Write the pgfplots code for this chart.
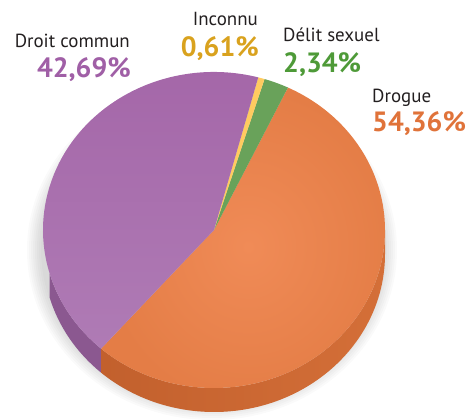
\documentclass[border=0pt]{standalone}
\usepackage{pgfplots}
\pgfplotsset{compat=1.18}
\usepackage{pgfplotstable}
\usetikzlibrary{calc}
\usepackage{fontspec}
\setmainfont{PT Sans}

\definecolor{purpleTop}{HTML}{A466A8}
\definecolor{purpleLow}{HTML}{AF7BB5}
\definecolor{purpleSide}{HTML}{8B5890}
\definecolor{orangeTop}{HTML}{E47D46}
\definecolor{orangeLight}{HTML}{F08B57}
\definecolor{orangeSideL}{HTML}{C2602D}
\definecolor{orangeSideR}{HTML}{D46F38}
\definecolor{greenTop}{HTML}{69A25A}
\definecolor{yellowTop}{HTML}{FFCB60}
\definecolor{txt}{HTML}{231F20}
\definecolor{lblPurple}{HTML}{A05FA6}
\definecolor{lblYellow}{HTML}{D9A21E}
\definecolor{lblGreen}{HTML}{4E9A38}
\definecolor{lblOrange}{HTML}{E0733A}

\pgfplotstableread[col sep=comma]{
key,value
Drogue,54.36
Delit,2.34
Inconnu,0.61
Droit,42.69
}\piedata

\pgfplotstablegetelem{0}{value}\of\piedata \let\vA\pgfplotsretval
\pgfplotstablegetelem{1}{value}\of\piedata \let\vB\pgfplotsretval
\pgfplotstablegetelem{2}{value}\of\piedata \let\vC\pgfplotsretval
\pgfplotstablegetelem{3}{value}\of\piedata \let\vD\pgfplotsretval

% angles (counter-clockwise), start chosen so that the layout matches
\pgfmathsetmacro\aA{-131.316}
\pgfmathsetmacro\aB{\aA+3.6*\vA}
\pgfmathsetmacro\aC{\aB+3.6*\vB}
\pgfmathsetmacro\aD{\aC+3.6*\vC}
\pgfmathsetmacro\aE{\aD+3.6*\vD}

\tikzset{pie/.style={x radius=171bp, y radius=158bp}}

\begin{document}
\begin{tikzpicture}
\begin{axis}[hide axis, scale only axis, width=468bp, height=414bp,
  xmin=0, xmax=468, ymin=0, ymax=414, clip=false]
\path (axis cs:0,0) (axis cs:468,414);
\coordinate (C) at (axis cs:214,184);
% soft shadow
\pgfplotsinvokeforeach{2,4,6,8,10,12,14,16}{
  \fill[black, opacity=0.018] ($(C)+(-2bp,-20bp)$) ellipse[x radius=169bp+#1bp, y radius=154bp+#1bp];
}
% sides
\fill[purpleSide] ($(C)+(196:171bp and 158bp)$) arc[start angle=196, end angle=\aE, pie]
  -- ++(0,-24bp) arc[start angle=\aE, end angle=196, pie] -- cycle;
\shade[left color=orangeSideL, right color=orangeSideR] ($(C)+(\aE:171bp and 158bp)$) arc[start angle=\aE, end angle=360, pie]
  -- ++(0,-24bp) arc[start angle=360, end angle=\aE, pie] -- cycle;
% top faces
\shade[inner color=orangeLight, outer color=orangeTop] (C) -- ($(C)+(\aA:171bp and 158bp)$) arc[start angle=\aA, end angle=\aB, pie] -- cycle;
\fill[greenTop] (C) -- ($(C)+(\aB:171bp and 158bp)$) arc[start angle=\aB, end angle=\aC, pie] -- cycle;
\fill[yellowTop] (C) -- ($(C)+(\aC:171bp and 158bp)$) arc[start angle=\aC, end angle=\aD, pie] -- cycle;
\shade[top color=purpleTop, bottom color=purpleLow] (C) -- ($(C)+(\aD:171bp and 158bp)$) arc[start angle=\aD, end angle=\aE, pie] -- cycle;
% labels
\node[anchor=base east, inner sep=0, font=\fontsize{19}{21}\selectfont, text=txt] at (axis cs:130,366) {Droit commun};
\node[anchor=base east, inner sep=0, font=\fontsize{28}{30}\selectfont\bfseries, text=lblPurple] at (axis cs:131,336) {42,69\%};
\node[anchor=base east, inner sep=0, font=\fontsize{19}{21}\selectfont, text=txt] at (axis cs:258,388) {Inconnu};
\node[anchor=base east, inner sep=0, font=\fontsize{28}{30}\selectfont\bfseries, text=lblYellow] at (axis cs:259,357) {0,61\%};
\node[anchor=base west, inner sep=0, font=\fontsize{19}{21}\selectfont, text=txt] at (axis cs:283,372) {Délit sexuel};
\node[anchor=base west, inner sep=0, font=\fontsize{28}{30}\selectfont\bfseries, text=lblGreen] at (axis cs:283,341) {2,34\%};
\node[anchor=base west, inner sep=0, font=\fontsize{19}{21}\selectfont, text=txt] at (axis cs:372,311) {Drogue};
\node[anchor=base west, inner sep=0, font=\fontsize{28}{30}\selectfont\bfseries, text=lblOrange] at (axis cs:372,282) {54,36\%};
\end{axis}
\end{tikzpicture}
\end{document}
